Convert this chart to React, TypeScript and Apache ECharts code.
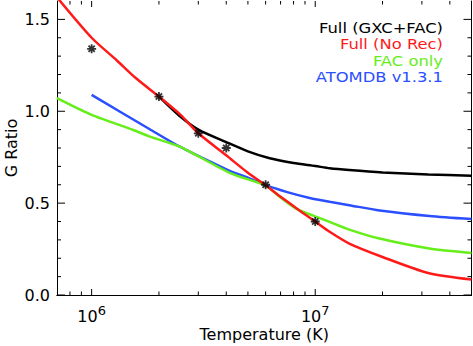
import React, { useEffect, useRef } from "react";
import * as echarts from "echarts";

const xMin = 7e5;
const xMax = 5e7;
const yMin = 0;
const yMax = 1.6;

const fullGxcFac: [number, number][] = [
  [2e6, 1.08], [2.5e6, 0.97], [3e6, 0.9], [4e6, 0.832], [5e6, 0.782],
  [6.26e6, 0.744], [8e6, 0.718], [1e7, 0.702], [1.16e7, 0.69], [1.42e7, 0.68],
  [2e7, 0.667], [3.2e7, 0.656], [5e7, 0.649],
];
const fullNoRec: [number, number][] = [
  [7e5, 1.62], [1e6, 1.4], [1.3e6, 1.275], [1.56e6, 1.185], [2e6, 1.08],
  [2.5e6, 0.98], [3e6, 0.88], [4e6, 0.76], [5e6, 0.665], [6e6, 0.597],
  [7e6, 0.535], [8.5e6, 0.46], [1e7, 0.4], [1.16e7, 0.344], [1.42e7, 0.28], [2e7, 0.207],
  [3.2e7, 0.12], [5e7, 0.084],
];
const facOnly: [number, number][] = [
  [7e5, 1.071], [1e6, 0.98], [1.535e6, 0.898], [1.82e6, 0.862],
  [2.48e6, 0.807], [4.14e6, 0.665], [6e6, 0.595], [7e6, 0.53],
  [8.2e6, 0.47], [1e7, 0.428], [1.16e7, 0.398], [1.42e7, 0.356],
  [1.94e7, 0.307], [3.24e7, 0.253], [5e7, 0.229],
];
const atomdb: [number, number][] = [
  [1e6, 1.089], [1.82e6, 0.902], [2.48e6, 0.807], [4.14e6, 0.676],
  [5.09e6, 0.635], [6e6, 0.598], [7.5e6, 0.56], [9.44e6, 0.528], [1.16e7, 0.507],
  [1.42e7, 0.489], [1.94e7, 0.46], [3.24e7, 0.43], [5e7, 0.413],
];
const measured: [number, number][] = [
  [1e6, 1.34], [2e6, 1.08], [3e6, 0.88], [4e6, 0.8], [6e6, 0.6], [1e7, 0.4],
];

const legendLabels = ["Full (GXC+FAC)", "Full (No Rec)", "FAC only", "ATOMDB v1.3.1"];
const seriesColors = ["#000000", "#ff1a1a", "#66ee1a", "#2b4fff"];
const legendY = [28.6, 44.9, 61.2, 77.5];

const xMajorTicks = [1e6, 1e7];
const xMinorTicks = [8e5, 9e5, 2e6, 3e6, 4e6, 5e6, 6e6, 7e6, 8e6, 9e6, 2e7, 3e7, 4e7];
const yMajorTicks = [0, 0.5, 1.0, 1.5];
const yMinorTicks = [0.1, 0.2, 0.3, 0.4, 0.6, 0.7, 0.8, 0.9, 1.1, 1.2, 1.3, 1.4];

const FONT = "DejaVu Sans";

export default function App() {
  const ref = useRef<HTMLDivElement>(null);
  useEffect(() => {
    if (!ref.current) return;
    const chart = echarts.init(ref.current, null, { renderer: "svg" });
    const xTickData = [
      ...xMajorTicks.map((v) => [v, 0, 1]),
      ...xMinorTicks.map((v) => [v, 0, 0]),
    ];
    const yTickData = [
      ...yMajorTicks.map((v) => [xMin, v, 1]),
      ...yMinorTicks.map((v) => [xMin, v, 0]),
    ];
    const tickStyle = { stroke: "#000", lineWidth: 1 };
    const lineSeries = (idx: number, data: [number, number][]) => ({
      name: legendLabels[idx],
      type: "line",
      data,
      showSymbol: false,
      smooth: 0.25,
      lineStyle: { color: seriesColors[idx], width: 2.5 },
      itemStyle: { color: seriesColors[idx] },
    });
    const option: any = {
      animation: false,
      backgroundColor: "#ffffff",
      grid: { left: 57, top: 1, width: 414.5, height: 294, outerBoundsMode: "none" },
      xAxis: [
        {
          type: "log",
          logBase: 10,
          min: xMin,
          max: xMax,
          position: "bottom",
          axisLine: { show: true, lineStyle: { color: "#000", width: 1 } },
          axisTick: { show: false },
          splitLine: { show: false },
          axisLabel: {
            margin: 9,
            color: "#000",
            fontFamily: FONT,
            fontSize: 16,
            formatter: (v: number) => {
              const e = Math.log10(v);
              if (Math.abs(e - Math.round(e)) < 1e-6) return `{b|10}{sup|${Math.round(e)}}`;
              return "";
            },
            rich: {
              b: { fontFamily: FONT, fontSize: 16, lineHeight: 20, color: "#000", verticalAlign: "bottom" },
              sup: { fontFamily: FONT, fontSize: 13, lineHeight: 6, color: "#000", verticalAlign: "top" },
            },
          },
          name: "Temperature (K)",
          nameLocation: "middle",
          nameGap: 31,
          nameMoveOverlap: false,
          nameTextStyle: { color: "#000", fontFamily: FONT, fontSize: 16, lineHeight: 16 },
        },
        {
          type: "log",
          logBase: 10,
          min: xMin,
          max: xMax,
          position: "top",
          axisLine: { show: true, lineStyle: { color: "#000", width: 1 } },
          axisTick: { show: false },
          axisLabel: { show: false },
          splitLine: { show: false },
        },
      ],
      yAxis: [
        {
          type: "value",
          min: yMin,
          max: yMax,
          position: "left",
          interval: 0.5,
          splitLine: { show: false },
          axisLine: { show: true, lineStyle: { color: "#000", width: 1 } },
          axisTick: { show: false },
          axisLabel: {
            margin: 7,
            color: "#000",
            fontFamily: FONT,
            fontSize: 16,
            formatter: (v: number) =>
              Math.abs(v * 2 - Math.round(v * 2)) < 1e-6 ? v.toFixed(1) : "",
          },
          name: "G Ratio",
          nameLocation: "middle",
          nameGap: 38,
          nameMoveOverlap: false,
          nameTextStyle: { color: "#000", fontFamily: FONT, fontSize: 16, lineHeight: 16 },
        },
        {
          type: "value",
          min: yMin,
          max: yMax,
          position: "right",
          interval: 0.5,
          splitLine: { show: false },
          axisLine: { show: true, lineStyle: { color: "#000", width: 1 } },
          axisTick: { show: false },
          axisLabel: { show: false },
        },
      ],
      graphic: legendLabels.map((t, i) => ({
        type: "text",
        x: 443,
        y: legendY[i],
        scaleX: 1.17,
        silent: true,
        style: {
          text: t,
          fill: seriesColors[i],
          font: `14px "${FONT}"`,
          textAlign: "right",
          textVerticalAlign: "middle",
        },
      })),
      series: [
        {
          type: "custom",
          silent: true,
          clip: false,
          data: xTickData,
          renderItem: (params: any, api: any) => {
            const t = api.value(0);
            const major = api.value(2) === 1;
            const pb = api.coord([t, yMin]);
            const pt = api.coord([t, yMax]);
            const len = major ? 6 : 3.5;
            return {
              type: "group",
              children: [
                { type: "line", shape: { x1: pb[0], y1: pb[1], x2: pb[0], y2: pb[1] - len }, style: tickStyle },
                { type: "line", shape: { x1: pt[0], y1: pt[1], x2: pt[0], y2: pt[1] + len }, style: tickStyle },
              ],
            };
          },
          z: 10,
        },
        {
          type: "custom",
          silent: true,
          clip: false,
          data: yTickData,
          renderItem: (params: any, api: any) => {
            const v = api.value(1);
            const major = api.value(2) === 1;
            const pl = api.coord([xMin, v]);
            const pr = api.coord([xMax, v]);
            const len = major ? 8 : 4;
            return {
              type: "group",
              children: [
                { type: "line", shape: { x1: pl[0], y1: pl[1], x2: pl[0] + len, y2: pl[1] }, style: tickStyle },
                { type: "line", shape: { x1: pr[0], y1: pr[1], x2: pr[0] - len, y2: pr[1] }, style: tickStyle },
              ],
            };
          },
          z: 10,
        },
        lineSeries(0, fullGxcFac),
        lineSeries(3, atomdb),
        lineSeries(2, facOnly),
        lineSeries(1, fullNoRec),
        {
          name: "Measured",
          type: "scatter",
          data: measured,
          symbol: "path://M0,5L10,5M5,0L5,10M1.5,1.5L8.5,8.5M8.5,1.5L1.5,8.5",
          symbolSize: 9,
          itemStyle: { color: "rgba(0,0,0,0)", borderColor: "#000", borderWidth: 1.8 },
          z: 5,
        },
      ],
    };
    chart.setOption(option);
    return () => chart.dispose();
  }, []);
  return (
    <div
      ref={ref}
      style={{ position: "absolute", left: 0, top: 0, width: 473, height: 346, background: "#fff" }}
    />
  );
}
